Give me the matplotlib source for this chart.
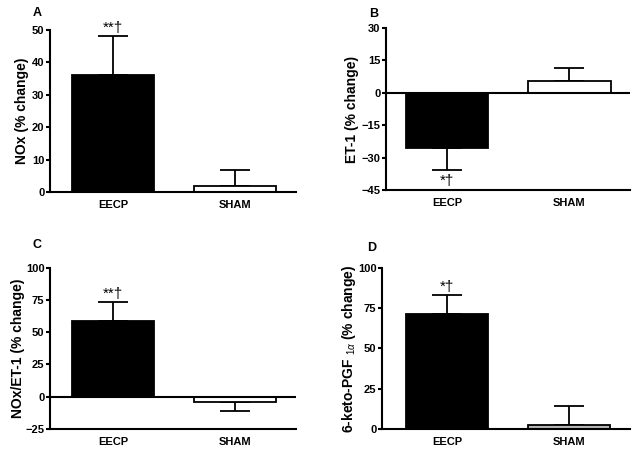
import matplotlib.pyplot as plt
from matplotlib import font_manager

# keep the condensed variant out of the font matching
font_manager.fontManager.ttflist = [f for f in font_manager.fontManager.ttflist
                                    if 'Narrow' not in f.name]

plt.rcParams['font.family'] = ['Liberation Sans', 'DejaVu Sans']
plt.rcParams['mathtext.fontset'] = 'custom'
plt.rcParams['mathtext.rm'] = 'Liberation Sans'
plt.rcParams['mathtext.it'] = 'Liberation Sans:italic'
plt.rcParams['mathtext.bf'] = 'Liberation Sans:bold'

groups = ['EECP', 'SHAM']

nox = [36.2, 1.8]
nox_err = [12.0, 4.9]
et1 = [-25.4, 5.5]
et1_err = [10.2, 5.9]
ratio = [58.5, -4.4]
ratio_err = [14.6, 6.7]
pgf = [71.4, 2.5]
pgf_err = [11.5, 11.8]

sham_colors = ['white', 'white', 'white', '#b8b8b8']
marks = ['**\u2020', '*\u2020', '**\u2020', '*\u2020']
letters = ['A', 'B', 'C', 'D']
ylabels = ['NOx (% change)', 'ET-1 (% change)', 'NOx/ET-1 (% change)',
           r'6-keto-PGF $_{1\alpha}$ (% change)']
ylims = [(0, 50), (-45, 30), (-25, 100), (0, 100)]
yticks = [[0, 10, 20, 30, 40, 50], [-45, -30, -15, 0, 15, 30],
          [-25, 0, 25, 50, 75, 100], [0, 25, 50, 75, 100]]
boxes = [[0.0785, 0.576, 0.386, 0.3576],
         [0.606, 0.5806, 0.383, 0.3576],
         [0.0785, 0.0536, 0.386, 0.3554],
         [0.5997, 0.053, 0.389, 0.356]]
xlefts = [-0.514, -0.498, -0.514, -0.53]
letter_pos = [(-0.033, 1.086), (-0.033, 1.068), (-0.033, 1.122), (-0.024, 1.104)]
label_pads = [2, 2, 0, 0]

means = [nox, et1, ratio, pgf]
errs = [nox_err, et1_err, ratio_err, pgf_err]

fig = plt.figure(figsize=(6.37, 4.53), dpi=100)
lw = 1.5

for i in range(4):
    ax = fig.add_axes(boxes[i])
    m = means[i]
    e = errs[i]
    x = [0, 1]
    for j in range(2):
        lo = [0] if m[j] >= 0 else [e[j]]
        hi = [e[j]] if m[j] >= 0 else [0]
        ax.errorbar(x[j], m[j], yerr=[lo, hi], fmt='none', ecolor='black',
                    elinewidth=1.3, capsize=11, capthick=1.3, zorder=1)
    ax.bar(x, m, width=0.67, color=['black', sham_colors[i]],
           edgecolor='black', linewidth=1.3, zorder=2)
    ax.set_xlim(xlefts[i], 1.494)
    ax.set_ylim(*ylims[i])
    ax.set_yticks(yticks[i])
    ax.set_xticks(x)
    ax.set_xticklabels(groups)
    ax.tick_params(axis='x', length=0, pad=6, labelsize=8)
    ax.tick_params(axis='y', length=3, width=lw, pad=1, labelsize=8)
    for t in ax.get_xticklabels() + ax.get_yticklabels():
        t.set_fontweight('bold')
    ax.spines['top'].set_visible(False)
    ax.spines['right'].set_visible(False)
    ax.spines['left'].set_linewidth(lw)
    ax.spines['bottom'].set_linewidth(lw)
    if ylims[i][0] < 0:
        ax.axhline(0, color='black', linewidth=lw, zorder=3)
    ax.set_ylabel(ylabels[i], fontsize=10, fontweight='bold', labelpad=label_pads[i])
    ax.text(letter_pos[i][0], letter_pos[i][1], letters[i], transform=ax.transAxes,
            fontsize=9, fontweight='bold', ha='right', va='baseline')
    # significance marks beside the EECP error bar
    if m[0] >= 0:
        ax.annotate(marks[i], (0, m[0] + e[0]), xytext=(0, 1),
                    textcoords='offset points', ha='center', va='bottom',
                    fontsize=11)
    else:
        ax.annotate(marks[i], (0, m[0] - e[0]), xytext=(0, -3),
                    textcoords='offset points', ha='center', va='top',
                    fontsize=11)

plt.savefig('out.png', dpi=100)
